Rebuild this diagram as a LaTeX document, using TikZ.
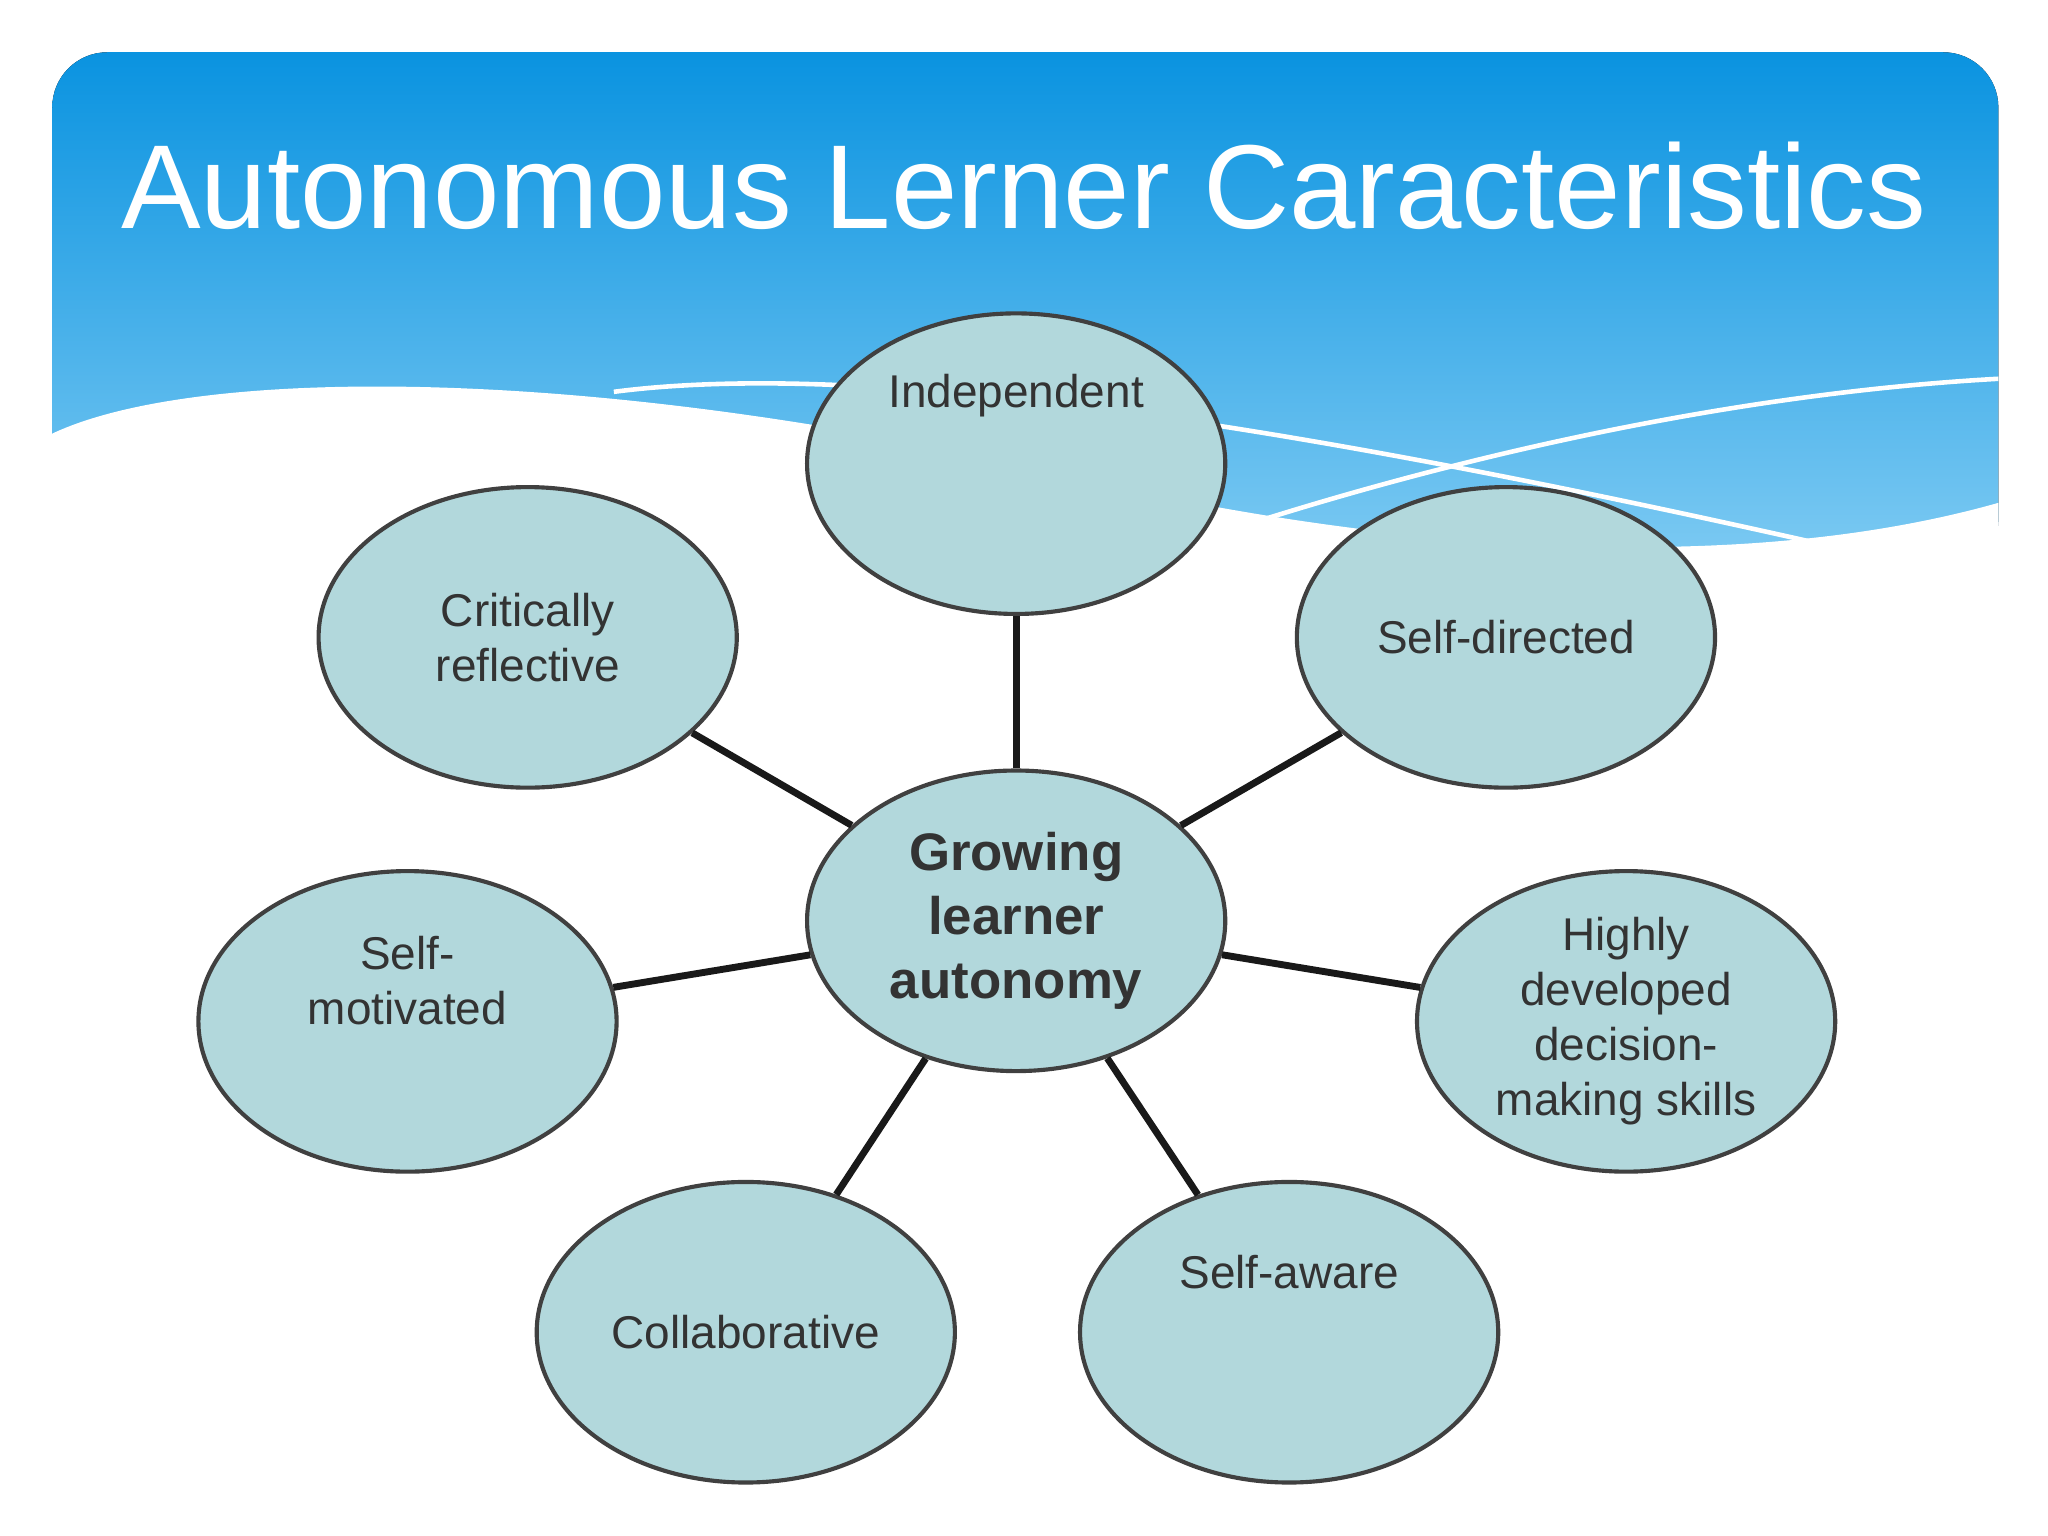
\documentclass[tikz,border=0pt]{standalone}
\usepackage{fontspec}
\setmainfont{Liberation Sans}
\usetikzlibrary{shapes.geometric}
\definecolor{topblue}{HTML}{0A93E0}
\definecolor{lowblue}{HTML}{7FCBF3}
\definecolor{bub}{HTML}{B2D8DC}
\tikzset{
 bubble/.style={ellipse,draw=black!75,line width=0.9pt,fill=bub,minimum width=3.2cm,minimum height=2.3cm,inner sep=0pt,align=center,font=\fontsize{10}{12}\selectfont,text=black!80},
 spoke/.style={line width=1.5pt,black!90}
}
\begin{document}
\begin{tikzpicture}[x=0.01cm,y=-0.01cm]
\useasboundingbox (0,0) rectangle (1568,1176);
\fill[white] (0,0) rectangle (1568,1176);
\fill[top color=topblue,bottom color=lowblue,rounded corners=12] (40,40) rectangle (1530,440);
\fill[white] (40,332) .. controls (150,280) and (450,280) .. (800,360) .. controls (1000,410) and (1300,450) .. (1530,385) -- (1530,460) -- (40,460) -- cycle;
\draw[white,line width=1pt] (470,300) .. controls (700,270) and (1100,350) .. (1410,420);
\draw[white,line width=1pt] (960,400) .. controls (1150,340) and (1350,300) .. (1530,290);
\node[white,font=\fontsize{26}{30}\selectfont] (title) at (784,142) {Autonomous Lerner Caracteristics};
\node[bubble,font=\bfseries\fontsize{11.5}{14}\selectfont] (c) at (778,705) {Growing\\learner\\autonomy};
\node[bubble] (n1) at (778,355) {Independent\\[0.7cm]};
\node[bubble] (n2) at (1153,488) {Self-directed};
\node[bubble] (n3) at (1245,782) {Highly\\developed\\decision-\\making skills};
\node[bubble] (n4) at (987,1020) {Self-aware\\[0.5cm]};
\node[bubble] (n5) at (571,1020) {Collaborative};
\node[bubble] (n6) at (312,782) {Self-\\motivated\\[0.2cm]};
\node[bubble] (n7) at (404,488) {Critically\\reflective};
\foreach \n in {n1,n2,n3,n4,n5,n6,n7} \draw[spoke] (c) -- (\n);
\end{tikzpicture}
\end{document}
